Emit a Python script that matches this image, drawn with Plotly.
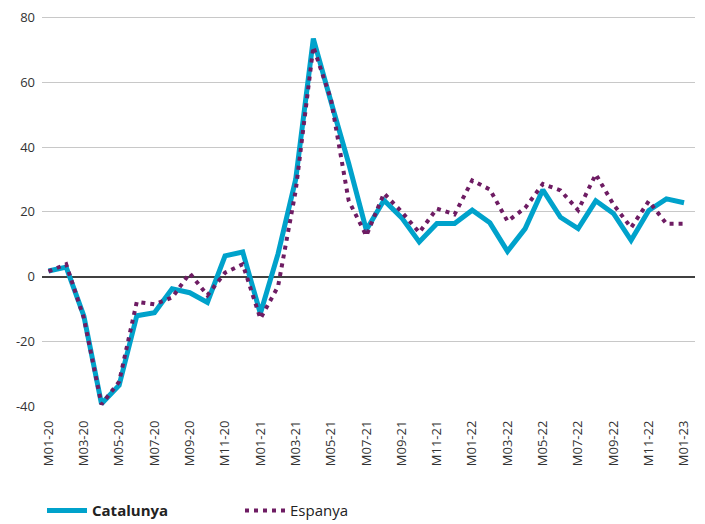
import plotly.graph_objects as go

months = [f"M{m:02d}-{y}" for y in ("20", "21", "22") for m in range(1, 13)] + ["M01-23"]

catalunya = [1.7, 2.9, -12.2, -39.3, -33.6, -12.1, -11.2, -3.8, -5.0, -8.0, 6.4, 7.6,
             -11.4, 7.0, 30.0, 73.5, 54.0, 35.0, 14.4, 23.6, 18.2, 10.7, 16.4, 16.4,
             20.5, 16.6, 7.8, 14.8, 26.8, 18.3, 14.8, 23.4, 19.5, 11.2, 20.4, 24.0, 22.8]

espanya = [1.6, 3.8, -12.8, -39.5, -32.5, -7.8, -8.6, -6.5, 1.0, -5.8, 1.2, 3.8,
           -13.0, -3.1, 26.5, 71.0, 54.7, 23.5, 12.6, 25.7, 20.0, 13.6, 21.0, 19.2,
           29.7, 26.9, 17.1, 21.2, 28.6, 26.6, 20.5, 31.6, 22.3, 15.1, 23.3, 16.3, 16.3]

tick_labels = months[::2]
y_ticks = [-40, -20, 0, 20, 40, 60, 80]
y_tick_text = [str(v) for v in y_ticks]

fig = go.Figure()
fig.add_trace(go.Scatter(x=months, y=catalunya, mode="lines", name="<b>Catalunya</b>",
                         line=dict(color="#00A2CB", width=5)))
fig.add_trace(go.Scatter(x=months, y=espanya, mode="lines", name="Espanya",
                         line=dict(color="#6E1C63", width=4, dash="4px,5px")))

# the page body adds an 8px offset, so the figure is 8px smaller on each side
fig.update_layout(
    width=697, height=516,
    margin=dict(l=34, r=10, t=8, b=117.6, autoexpand=False),
    paper_bgcolor="white", plot_bgcolor="white",
    font=dict(family="Open Sans", size=13, color="#333333"),
    showlegend=True,
    legend=dict(orientation="h", x=0.0, xanchor="left", y=-0.226, yanchor="top",
                font=dict(size=15, color="#222222"),
                entrywidth=143, entrywidthmode="pixels", itemwidth=40,
                traceorder="normal"),
    xaxis=dict(type="category", categoryorder="array", categoryarray=months,
               range=[-0.37, 36.62], tickmode="array", tickvals=tick_labels,
               ticktext=tick_labels, tickangle=-90, showgrid=False, zeroline=False,
               showline=False, ticks="", ticklabelstandoff=11,
               ticklabeloverflow="allow",
               tickfont=dict(size=13, color="#333333")),
    yaxis=dict(range=[-40, 80.5], tickmode="array", tickvals=y_ticks, ticktext=y_tick_text,
               showgrid=True, gridcolor="#C8C8C8", gridwidth=1,
               zeroline=True, zerolinecolor="#404040", zerolinewidth=2,
               showline=False, ticks="", ticklabelstandoff=6,
               ticklabeloverflow="allow",
               tickfont=dict(size=13, color="#333333")),
)

fig.write_html("out.html")
